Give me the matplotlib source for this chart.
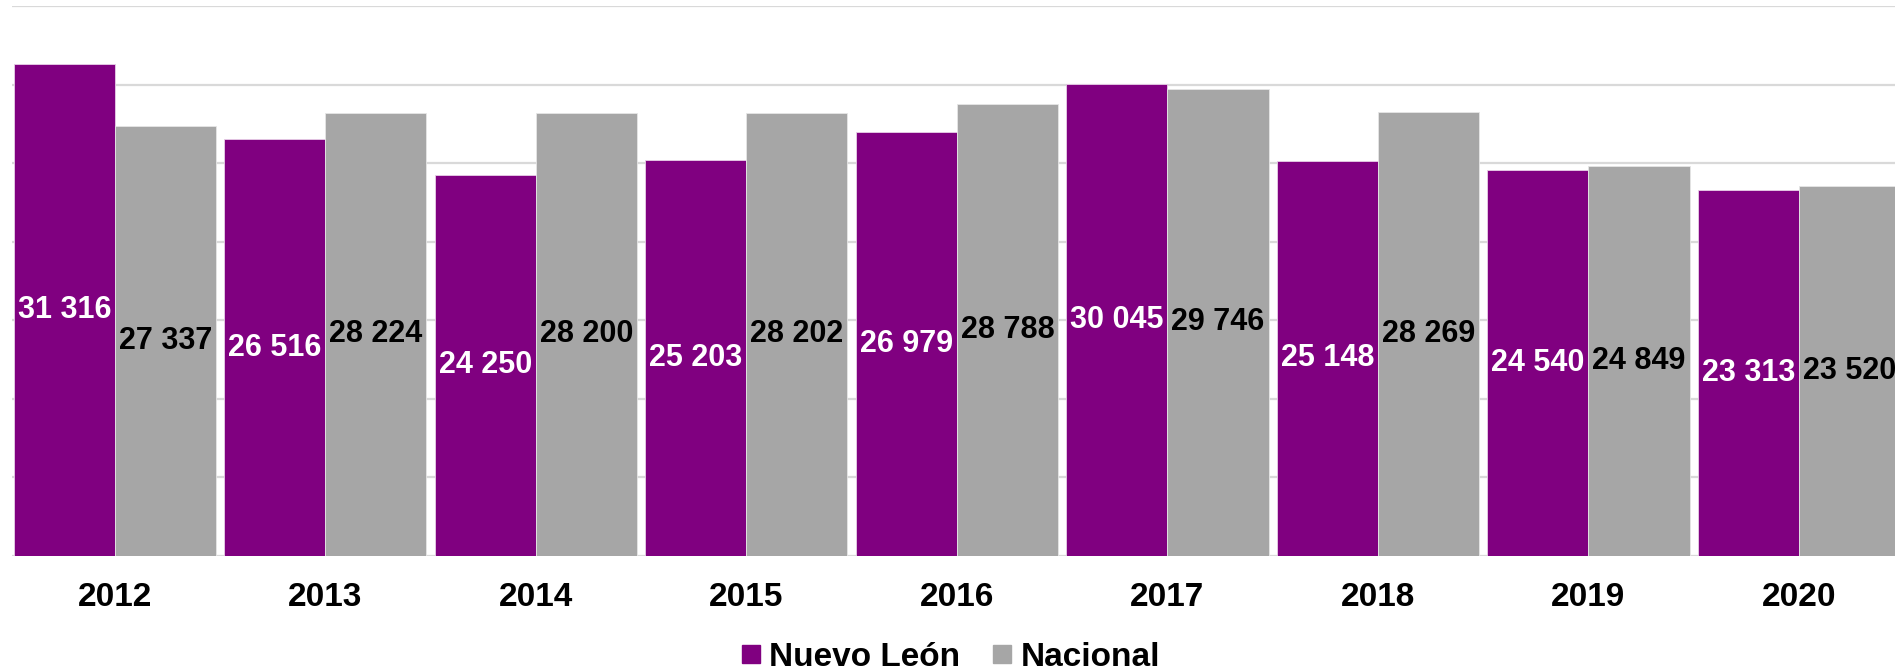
import numpy as np
import matplotlib
matplotlib.use('Agg')
import matplotlib.pyplot as plt
from matplotlib.lines import Line2D

years = ['2012', '2013', '2014', '2015', '2016', '2017', '2018', '2019', '2020']
nuevo_leon = [31316, 26516, 24250, 25203, 26979, 30045, 25148, 24540, 23313]
nacional = [27337, 28224, 28200, 28202, 28788, 29746, 28269, 24849, 23520]

purple = '#800080'
gray = '#A6A6A6'

plt.rcParams['font.family'] = ['Liberation Sans', 'DejaVu Sans']
plt.rcParams['font.weight'] = 'bold'

fig = plt.figure(figsize=(18.95, 6.71), dpi=100)
ax = fig.add_axes([0.0063, 0.1714, 0.9937, 0.8196])

x = np.arange(len(years))
w = 0.48

ax.bar(x - w / 2, nuevo_leon, w, color=purple, edgecolor='#E8D0E8', linewidth=0.6, zorder=2)
ax.bar(x + w / 2, nacional, w, color=gray, edgecolor='#E6E6E6', linewidth=0.6, zorder=2)

def fmt(v):
    return '{:,}'.format(v).replace(',', ' ')

# value labels sit in the middle of each bar
for xi, v in zip(x, nuevo_leon):
    ax.text(xi - w / 2, v / 2, fmt(v), ha='center', va='center',
            color='white', fontsize=22, fontweight='bold', zorder=3)
for xi, v in zip(x, nacional):
    ax.text(xi + w / 2, v / 2, fmt(v), ha='center', va='center',
            color='black', fontsize=22, fontweight='bold', zorder=3)

ax.set_ylim(0, 35000)
ax.set_xlim(-0.489, 8.456)
ax.set_yticks(np.arange(0, 35001, 5000))
ax.set_yticklabels([])
ax.yaxis.grid(True, color='#D9D9D9', linewidth=1.6, zorder=0)
ax.set_axisbelow(True)
ax.tick_params(axis='y', length=0)
ax.set_xticks(x)
ax.set_xticklabels(years, fontsize=24, fontweight='bold')
ax.tick_params(axis='x', length=0, pad=19)
for s in ax.spines.values():
    s.set_visible(False)

handles = [Line2D([], [], marker='s', linestyle='', markersize=12.5, color=purple),
           Line2D([], [], marker='s', linestyle='', markersize=12.5, color=gray)]
fig.legend(handles, ['Nuevo León', 'Nacional'], loc='center', bbox_to_anchor=(0.502, 0.02),
           ncol=2, frameon=False, handlelength=0.5, handletextpad=0.3,
           columnspacing=1.0, prop={'weight': 'bold', 'size': 24})

fig.savefig('out.png', dpi=100)
